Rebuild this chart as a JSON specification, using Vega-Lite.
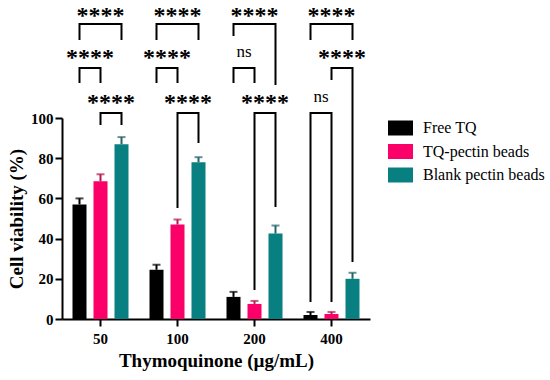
{
  "$schema": "https://vega.github.io/schema/vega-lite/v6.json",
  "autosize": {"type": "none"},
  "padding": {"left": 62, "top": 118, "right": 180, "bottom": 61},
  "width": 308,
  "height": 201,
  "background": "white",
  "config": {"view": {"stroke": null}, "font": "Liberation Serif"},
  "datasets": {
    "bars": [
      {"dose": "50", "series": "Free TQ", "v": 57, "hi": 60},
      {"dose": "50", "series": "TQ-pectin beads", "v": 68.5, "hi": 72},
      {"dose": "50", "series": "Blank pectin beads", "v": 87, "hi": 90.5},
      {"dose": "100", "series": "Free TQ", "v": 24.5, "hi": 27},
      {"dose": "100", "series": "TQ-pectin beads", "v": 47, "hi": 49.5},
      {"dose": "100", "series": "Blank pectin beads", "v": 78, "hi": 80.5},
      {"dose": "200", "series": "Free TQ", "v": 11, "hi": 13.5},
      {"dose": "200", "series": "TQ-pectin beads", "v": 7.5, "hi": 9},
      {"dose": "200", "series": "Blank pectin beads", "v": 42.5, "hi": 46.5},
      {"dose": "400", "series": "Free TQ", "v": 2, "hi": 3.5},
      {"dose": "400", "series": "TQ-pectin beads", "v": 2.5, "hi": 3.5},
      {"dose": "400", "series": "Blank pectin beads", "v": 20, "hi": 23}
    ],
    "brackets": [
      {"id": "50a", "dose": "50", "series": "Free TQ", "y": 138.8, "ord": 1},
      {"id": "50a", "dose": "50", "series": "Free TQ", "y": 146.8, "ord": 2},
      {"id": "50a", "dose": "50", "series": "Blank pectin beads", "y": 146.8, "ord": 3},
      {"id": "50a", "dose": "50", "series": "Blank pectin beads", "y": 138.8, "ord": 4},
      {"id": "50b", "dose": "50", "series": "Free TQ", "y": 117.4, "ord": 1},
      {"id": "50b", "dose": "50", "series": "Free TQ", "y": 124.9, "ord": 2},
      {"id": "50b", "dose": "50", "series": "TQ-pectin beads", "y": 124.9, "ord": 3},
      {"id": "50b", "dose": "50", "series": "TQ-pectin beads", "y": 117.4, "ord": 4},
      {"id": "50c", "dose": "50", "series": "TQ-pectin beads", "y": 96.5, "ord": 1},
      {"id": "50c", "dose": "50", "series": "TQ-pectin beads", "y": 102.5, "ord": 2},
      {"id": "50c", "dose": "50", "series": "Blank pectin beads", "y": 102.5, "ord": 3},
      {"id": "50c", "dose": "50", "series": "Blank pectin beads", "y": 96.5, "ord": 4},
      {"id": "100a", "dose": "100", "series": "Free TQ", "y": 138.8, "ord": 1},
      {"id": "100a", "dose": "100", "series": "Free TQ", "y": 146.8, "ord": 2},
      {"id": "100a", "dose": "100", "series": "Blank pectin beads", "y": 146.8, "ord": 3},
      {"id": "100a", "dose": "100", "series": "Blank pectin beads", "y": 138.8, "ord": 4},
      {"id": "100b", "dose": "100", "series": "Free TQ", "y": 117.4, "ord": 1},
      {"id": "100b", "dose": "100", "series": "Free TQ", "y": 124.9, "ord": 2},
      {"id": "100b", "dose": "100", "series": "TQ-pectin beads", "y": 124.9, "ord": 3},
      {"id": "100b", "dose": "100", "series": "TQ-pectin beads", "y": 117.4, "ord": 4},
      {"id": "100c", "dose": "100", "series": "TQ-pectin beads", "y": 55.2, "ord": 1},
      {"id": "100c", "dose": "100", "series": "TQ-pectin beads", "y": 102.5, "ord": 2},
      {"id": "100c", "dose": "100", "series": "Blank pectin beads", "y": 102.5, "ord": 3},
      {"id": "100c", "dose": "100", "series": "Blank pectin beads", "y": 87.6, "ord": 4},
      {"id": "200a", "dose": "200", "series": "Free TQ", "y": 140.8, "ord": 1},
      {"id": "200a", "dose": "200", "series": "Free TQ", "y": 146.8, "ord": 2},
      {"id": "200a", "dose": "200", "series": "Blank pectin beads", "y": 146.8, "ord": 3},
      {"id": "200a", "dose": "200", "series": "Blank pectin beads", "y": 116.4, "ord": 4},
      {"id": "200b", "dose": "200", "series": "Free TQ", "y": 117.4, "ord": 1},
      {"id": "200b", "dose": "200", "series": "Free TQ", "y": 124.9, "ord": 2},
      {"id": "200b", "dose": "200", "series": "TQ-pectin beads", "y": 124.9, "ord": 3},
      {"id": "200b", "dose": "200", "series": "TQ-pectin beads", "y": 117.4, "ord": 4},
      {"id": "200c", "dose": "200", "series": "TQ-pectin beads", "y": 14.4, "ord": 1},
      {"id": "200c", "dose": "200", "series": "TQ-pectin beads", "y": 102.5, "ord": 2},
      {"id": "200c", "dose": "200", "series": "Blank pectin beads", "y": 102.5, "ord": 3},
      {"id": "200c", "dose": "200", "series": "Blank pectin beads", "y": 55.7, "ord": 4},
      {"id": "400a", "dose": "400", "series": "Free TQ", "y": 138.8, "ord": 1},
      {"id": "400a", "dose": "400", "series": "Free TQ", "y": 146.8, "ord": 2},
      {"id": "400a", "dose": "400", "series": "Blank pectin beads", "y": 146.8, "ord": 3},
      {"id": "400a", "dose": "400", "series": "Blank pectin beads", "y": 138.8, "ord": 4},
      {"id": "400b", "dose": "400", "series": "TQ-pectin beads", "y": 118.9, "ord": 1},
      {"id": "400b", "dose": "400", "series": "TQ-pectin beads", "y": 124.9, "ord": 2},
      {"id": "400b", "dose": "400", "series": "Blank pectin beads", "y": 124.9, "ord": 3},
      {"id": "400b", "dose": "400", "series": "Blank pectin beads", "y": 28.4, "ord": 4},
      {"id": "400c", "dose": "400", "series": "Free TQ", "y": 8.5, "ord": 1},
      {"id": "400c", "dose": "400", "series": "Free TQ", "y": 102.5, "ord": 2},
      {"id": "400c", "dose": "400", "series": "TQ-pectin beads", "y": 102.5, "ord": 3},
      {"id": "400c", "dose": "400", "series": "TQ-pectin beads", "y": 8.5, "ord": 4}
    ],
    "labels": [
      {"dose": "50", "series": "TQ-pectin beads", "side": "c", "y": 147.3, "label": "****"},
      {"dose": "50", "series": "Free TQ", "side": "r", "y": 126.4, "label": "****"},
      {"dose": "50", "series": "TQ-pectin beads", "side": "r", "y": 104.0, "label": "****"},
      {"dose": "100", "series": "TQ-pectin beads", "side": "c", "y": 147.3, "label": "****"},
      {"dose": "100", "series": "Free TQ", "side": "r", "y": 126.4, "label": "****"},
      {"dose": "100", "series": "TQ-pectin beads", "side": "r", "y": 104.0, "label": "****"},
      {"dose": "200", "series": "TQ-pectin beads", "side": "c", "y": 147.3, "label": "****"},
      {"dose": "200", "series": "Free TQ", "side": "r", "y": 130.3, "label": "ns"},
      {"dose": "200", "series": "TQ-pectin beads", "side": "r", "y": 104.0, "label": "****"},
      {"dose": "400", "series": "TQ-pectin beads", "side": "c", "y": 147.3, "label": "****"},
      {"dose": "400", "series": "TQ-pectin beads", "side": "r", "y": 126.4, "label": "****"},
      {"dose": "400", "series": "Free TQ", "side": "r", "y": 108.0, "label": "ns"}
    ]
  },
  "layer": [
    {
      "data": {"name": "bars"},
      "mark": {"type": "bar"},
      "encoding": {
        "x": {"field": "dose", "type": "nominal", "sort": ["50", "100", "200", "400"],
          "scale": {"paddingInner": 0, "paddingOuter": 0},
          "axis": {"title": "Thymoquinone (µg/mL)", "labelAngle": 0, "labelFont": "Liberation Serif", "labelFontWeight": "bold", "labelFontSize": 15, "labelColor": "black", "labelPadding": 5, "tickSize": 7, "tickWidth": 2, "tickColor": "black", "domainColor": "black", "domainWidth": 2, "titleFont": "Liberation Serif", "titleFontWeight": "bold", "titleFontSize": 19, "titleColor": "black", "titlePadding": 5}},
        "xOffset": {"field": "series", "type": "nominal", "sort": ["Free TQ", "TQ-pectin beads", "Blank pectin beads"],
          "scale": {"paddingInner": 0.333, "paddingOuter": 0.5}},
        "y": {"field": "v", "type": "quantitative",
          "scale": {"domain": [0, 100], "nice": false},
          "axis": {"title": "Cell viability (%)", "values": [0, 20, 40, 60, 80, 100], "grid": false, "labelFont": "Liberation Serif", "labelFontWeight": "bold", "labelFontSize": 15, "labelColor": "black", "labelPadding": 2, "tickSize": 7, "tickWidth": 2, "tickColor": "black", "domainColor": "black", "domainWidth": 2, "titleFont": "Liberation Serif", "titleFontWeight": "bold", "titleFontSize": 19, "titleColor": "black", "titlePadding": 4}},
        "color": {"field": "series", "type": "nominal", "sort": ["Free TQ", "TQ-pectin beads", "Blank pectin beads"],
          "scale": {"domain": ["Free TQ", "TQ-pectin beads", "Blank pectin beads"], "range": ["#000000", "#fa0068", "#087f80"]},
          "legend": {"orient": "none", "legendX": 326, "legendY": -2.5, "title": null, "symbolType": "M-1,-0.6H1V0.6H-1Z", "symbolSize": 625, "symbolStrokeWidth": 0, "symbolOpacity": 1, "labelFont": "Liberation Serif", "labelFontSize": 16, "labelColor": "black", "labelOffset": 10, "rowPadding": 2.5}}
      }
    },
    {
      "data": {"name": "bars"},
      "mark": {"type": "rule", "strokeWidth": 2},
      "encoding": {
        "x": {"field": "dose", "type": "nominal", "sort": ["50", "100", "200", "400"]},
        "xOffset": {"field": "series", "type": "nominal", "sort": ["Free TQ", "TQ-pectin beads", "Blank pectin beads"]},
        "y": {"field": "v", "type": "quantitative"},
        "y2": {"field": "hi"},
        "color": {"field": "series", "type": "nominal", "scale": {"domain": ["Free TQ", "TQ-pectin beads", "Blank pectin beads"], "range": ["#000000", "#b0184f", "#22646a"]}, "legend": null}
      }
    },
    {
      "data": {"name": "bars"},
      "mark": {"type": "tick", "orient": "horizontal", "size": 8, "thickness": 2},
      "encoding": {
        "x": {"field": "dose", "type": "nominal", "sort": ["50", "100", "200", "400"]},
        "xOffset": {"field": "series", "type": "nominal", "sort": ["Free TQ", "TQ-pectin beads", "Blank pectin beads"]},
        "y": {"field": "hi", "type": "quantitative"},
        "color": {"field": "series", "type": "nominal", "scale": {"domain": ["Free TQ", "TQ-pectin beads", "Blank pectin beads"], "range": ["#000000", "#b0184f", "#22646a"]}, "legend": null}
      }
    },
    {
      "data": {"name": "brackets"},
      "mark": {"type": "line", "color": "black", "strokeWidth": 2, "strokeJoin": "miter", "strokeCap": "butt"},
      "encoding": {
        "x": {"field": "dose", "type": "nominal", "sort": ["50", "100", "200", "400"]},
        "xOffset": {"field": "series", "type": "nominal", "sort": ["Free TQ", "TQ-pectin beads", "Blank pectin beads"]},
        "y": {"field": "y", "type": "quantitative"},
        "detail": {"field": "id"},
        "order": {"field": "ord", "type": "quantitative"}
      }
    },
    {
      "data": {"name": "labels"},
      "transform": [{"filter": "datum.side == 'c' && datum.label == '****'"}],
      "mark": {"type": "text", "font": "Liberation Serif", "fontWeight": "bold", "fontSize": 24, "baseline": "alphabetic", "align": "center", "color": "black"},
      "encoding": {
        "x": {"field": "dose", "type": "nominal", "sort": ["50", "100", "200", "400"]},
        "xOffset": {"field": "series", "type": "nominal", "sort": ["Free TQ", "TQ-pectin beads", "Blank pectin beads"]},
        "y": {"field": "y", "type": "quantitative"},
        "text": {"field": "label"}
      }
    },
    {
      "data": {"name": "labels"},
      "transform": [{"filter": "datum.side == 'r' && datum.label == '****'"}],
      "mark": {"type": "text", "font": "Liberation Serif", "fontWeight": "bold", "fontSize": 24, "baseline": "alphabetic", "align": "center", "dx": 10.5, "color": "black"},
      "encoding": {
        "x": {"field": "dose", "type": "nominal", "sort": ["50", "100", "200", "400"]},
        "xOffset": {"field": "series", "type": "nominal", "sort": ["Free TQ", "TQ-pectin beads", "Blank pectin beads"]},
        "y": {"field": "y", "type": "quantitative"},
        "text": {"field": "label"}
      }
    },
    {
      "data": {"name": "labels"},
      "transform": [{"filter": "datum.label == 'ns'"}],
      "mark": {"type": "text", "font": "Liberation Serif", "fontSize": 17, "baseline": "alphabetic", "align": "center", "dx": 10.5, "color": "black"},
      "encoding": {
        "x": {"field": "dose", "type": "nominal", "sort": ["50", "100", "200", "400"]},
        "xOffset": {"field": "series", "type": "nominal", "sort": ["Free TQ", "TQ-pectin beads", "Blank pectin beads"]},
        "y": {"field": "y", "type": "quantitative"},
        "text": {"field": "label"}
      }
    }
  ],
  "resolve": {"scale": {"color": "independent"}}
}
